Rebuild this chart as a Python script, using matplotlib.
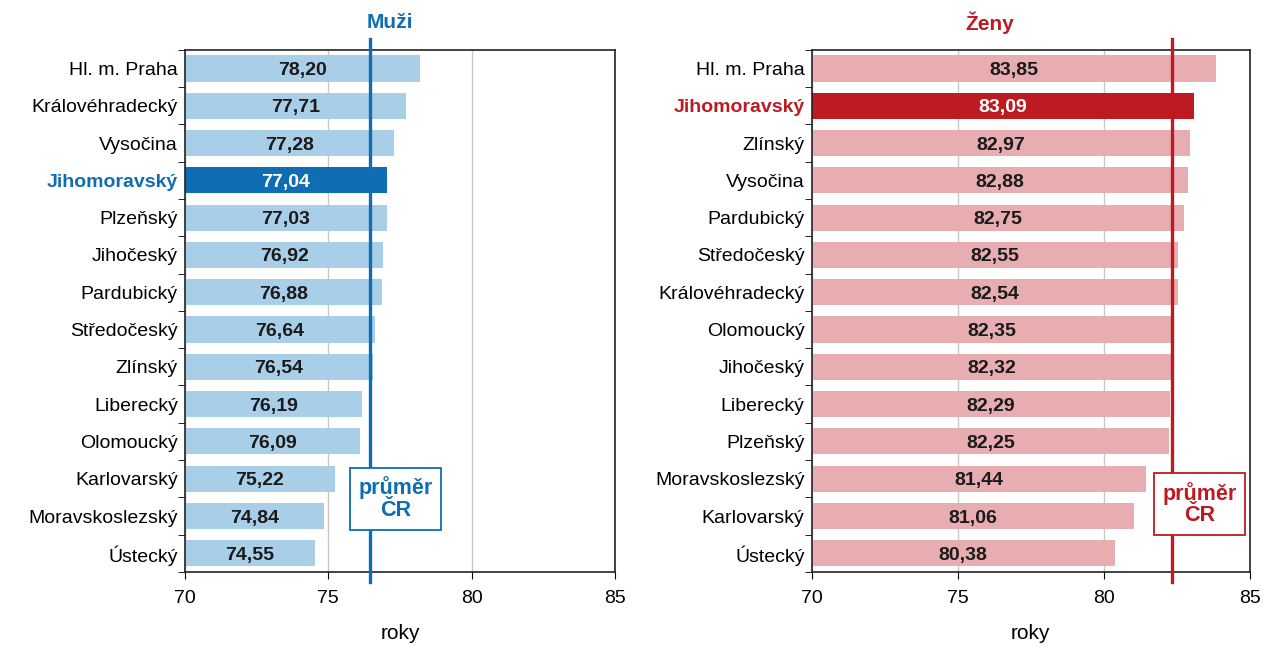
import matplotlib.pyplot as plt

plt.rcParams['font.family'] = ['Liberation Sans', 'DejaVu Sans']

men_regions = ['Hl. m. Praha', 'Královéhradecký', 'Vysočina', 'Jihomoravský', 'Plzeňský',
               'Jihočeský', 'Pardubický', 'Středočeský', 'Zlínský', 'Liberecký',
               'Olomoucký', 'Karlovarský', 'Moravskoslezský', 'Ústecký']
men_values = [78.20, 77.71, 77.28, 77.04, 77.03, 76.92, 76.88, 76.64, 76.54, 76.19,
              76.09, 75.22, 74.84, 74.55]
men_avg = 76.45

women_regions = ['Hl. m. Praha', 'Jihomoravský', 'Zlínský', 'Vysočina', 'Pardubický',
                 'Středočeský', 'Královéhradecký', 'Olomoucký', 'Jihočeský', 'Liberecký',
                 'Plzeňský', 'Moravskoslezský', 'Karlovarský', 'Ústecký']
women_values = [83.85, 83.09, 82.97, 82.88, 82.75, 82.55, 82.54, 82.35, 82.32, 82.29,
                82.25, 81.44, 81.06, 80.38]
women_avg = 82.33

highlight = 'Jihomoravský'
xticks = [70, 75, 80, 85]


def draw_panel(ax, regions, values, avg, light, dark, title, title_x, box_xy):
    colors = [dark if r == highlight else light for r in regions]
    y = list(range(len(regions)))
    ax.barh(y, [v - 70 for v in values], left=70, height=0.7, color=colors, zorder=2)

    # popisky hodnot uprostred sloupcu
    for i, v in enumerate(values):
        is_hl = regions[i] == highlight
        ax.text((70 + v) / 2, i, f'{v:.2f}'.replace('.', ','), ha='center', va='center_baseline',
                fontsize=14, fontweight='bold', color='white' if is_hl else '#1a1a1a', zorder=4)

    ax.set_xlim(70, 85)
    ax.set_ylim(len(regions) - 0.5, -0.5)
    ax.set_xticks(xticks)
    ax.set_xticklabels([str(t) for t in xticks], fontsize=14)
    ax.set_yticks(y)
    ax.set_yticklabels(regions, fontsize=14)
    ax.tick_params(axis='y', length=0, pad=5)
    ax.set_yticks([i - 0.5 for i in range(len(regions) + 1)], minor=True)
    ax.tick_params(axis='y', which='minor', length=5, direction='out')
    ax.tick_params(axis='x', length=5, direction='out', pad=8)
    for lab in ax.get_yticklabels():
        if lab.get_text() == highlight:
            lab.set_color(dark)
            lab.set_fontweight('bold')
    ax.grid(axis='x', color='#c8c8c8', linewidth=1, zorder=0)
    ax.set_axisbelow(True)
    for s in ax.spines.values():
        s.set_color('#222222')
        s.set_linewidth(1.2)

    # prumer CR
    ax.axvline(avg, ymin=-0.02, ymax=1.02, color=dark, linewidth=2.4, clip_on=False, zorder=3)
    ax.text(box_xy[0], box_xy[1], 'průměr\nČR', transform=ax.transAxes, ha='center', va='center',
            fontsize=15.5, fontweight='bold', color=dark, linespacing=1.05, zorder=5,
            bbox=dict(boxstyle='square,pad=0.4', facecolor='white', edgecolor=dark, linewidth=1.3))
    ax.set_xlabel('roky', fontsize=15, labelpad=12)
    ax.figure.text(title_x, 0.965, title, ha='center', va='center', fontsize=15,
                   fontweight='bold', color=dark)


fig = plt.figure(figsize=(12.66, 6.47), dpi=100)
ax1 = fig.add_axes([0.146, 0.116, 0.340, 0.807])
ax2 = fig.add_axes([0.641, 0.116, 0.346, 0.807])

draw_panel(ax1, men_regions, men_values, men_avg, '#a9cfe8', '#0f6db3', 'Muži', 0.308, (0.49, 0.14))
draw_panel(ax2, women_regions, women_values, women_avg, '#e8adb1', '#be1a22', 'Ženy', 0.782, (0.886, 0.13))

fig.savefig('out.png', dpi=100)
